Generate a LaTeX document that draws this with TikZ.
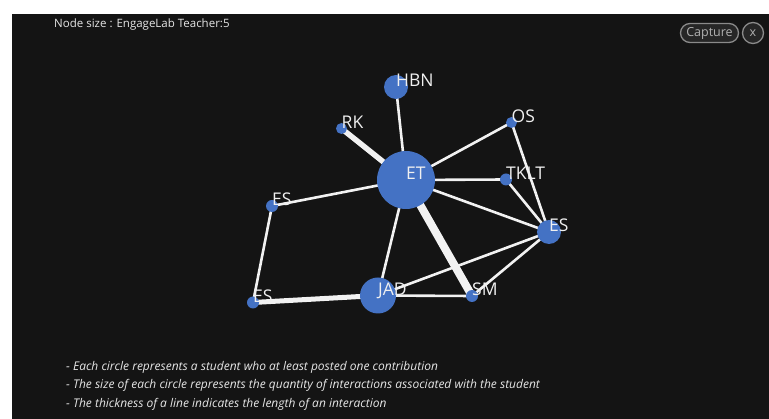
\documentclass[tikz,border=0pt]{standalone}
\usepackage{fontspec}
\setmainfont{Open Sans}
\definecolor{bgdark}{HTML}{141414}
\definecolor{nodeblue}{HTML}{4472C4}
\definecolor{edgewhite}{HTML}{F2F2F2}
\definecolor{labelwhite}{HTML}{F0F0F0}
\definecolor{btngray}{HTML}{8A8A8A}
\definecolor{btnfill}{HTML}{262626}
\definecolor{btntext}{HTML}{B0B0B0}
\definecolor{infotext}{HTML}{E6E6E6}
\pgfdeclarelayer{bglayer}
\pgfdeclarelayer{edgelayer}
\pgfsetlayers{bglayer,edgelayer,main}
\begin{document}
\begin{tikzpicture}[x=1pt,y=-1pt,
  nd/.style={circle,fill=nodeblue,inner sep=0pt,minimum size=#1},
  lbl/.style={anchor=base west,text=labelwhite,inner sep=0pt,font=\fontsize{17.5}{17.5}\selectfont},
  link/.style={draw=edgewhite,line width=#1},
  link/.default=2.6pt,
  info/.style={anchor=west,inner sep=0pt,text=infotext,font=\fontsize{12}{12}\selectfont\itshape},
  btn/.style={draw=btngray,line width=1.3pt,fill=btnfill,text=btntext,inner sep=0pt,font=\fontsize{12.5}{12.5}\selectfont}]
\useasboundingbox (0,0) rectangle (769,419);
\begin{pgfonlayer}{bglayer}
\fill[white] (0,0) rectangle (769,419);
\fill[bgdark] (12,14) rectangle (769,419);
\end{pgfonlayer}
% nodes
\node[nd=58pt] (et) at (406,180) {};
\node[nd=24pt] (hbn) at (396,87) {};
\node[nd=11pt] (rk) at (341.5,128.5) {};
\node[nd=11pt] (os) at (511.5,122.5) {};
\node[nd=12pt] (tklt) at (506,179.5) {};
\node[nd=12pt] (esl) at (272,206) {};
\node[nd=24pt] (esr) at (549,232) {};
\node[nd=36pt] (jad) at (378,295.5) {};
\node[nd=12pt] (sm) at (472,296) {};
\node[nd=12pt] (esb) at (253,302.5) {};
% edges
\begin{pgfonlayer}{edgelayer}
\draw[link] (et.center) -- (hbn.center);
\draw[link=5.5pt] (et.center) -- (rk.center);
\draw[link] (et.center) -- (os.center);
\draw[link] (et.center) -- (tklt.center);
\draw[link] (et.center) -- (esr.center);
\draw[link] (et.center) -- (esl.center);
\draw[link] (et.center) -- (jad.center);
\draw[link=8pt] (et.center) -- (sm.center);
\draw[link] (os.center) -- (esr.center);
\draw[link] (tklt.center) -- (esr.center);
\draw[link] (esr.center) -- (jad.center);
\draw[link] (esr.center) -- (sm.center);
\draw[link] (jad.center) -- (sm.center);
\draw[link] (esl.center) -- (esb.center);
\draw[link=5pt] (esb.center) -- (jad.center);
\end{pgfonlayer}
% labels
\node[lbl] (et-l) at (et.center) {ET};
\node[lbl] (hbn-l) at (hbn.center) {HBN};
\node[lbl] (rk-l) at (rk.center) {RK};
\node[lbl] (os-l) at (os.center) {OS};
\node[lbl] (tklt-l) at (tklt.center) {TKLT};
\node[lbl] (esl-l) at (esl.center) {ES};
\node[lbl] (esr-l) at (esr.center) {ES};
\node[lbl] (jad-l) at (jad.center) {JAD};
\node[lbl] (sm-l) at (sm.center) {SM};
\node[lbl] (esb-l) at (esb.center) {ES};
% header
\node[anchor=west,inner sep=0pt,text=infotext,font=\fontsize{11.5}{11.5}\selectfont] (title) at (54,25) {Node size : EngageLab Teacher:5};
\node[btn,rounded corners=9.5pt,minimum width=58pt,minimum height=19pt] (capture) at (709.5,33) {Capture};
\node[btn,circle,minimum size=21pt] (close) at (753,33) {x};
% footer
\node[info] (info1) at (66,367) {- Each circle represents a student who at least posted one contribution};
\node[info] (info2) at (66,385.5) {- The size of each circle represents the quantity of interactions associated with the student};
\node[info] (info3) at (66,404) {- The thickness of a line indicates the length of an interaction};
\end{tikzpicture}
\end{document}
